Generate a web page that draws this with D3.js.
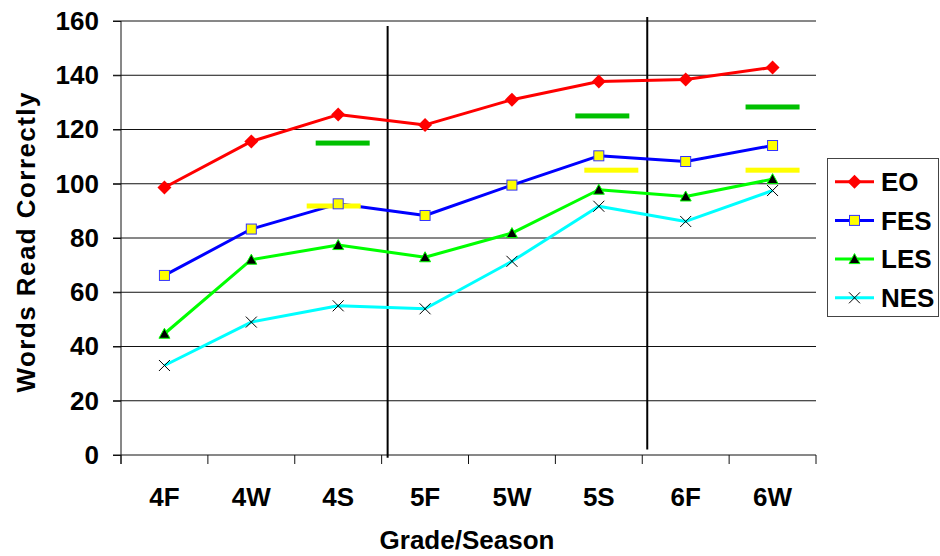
<!DOCTYPE html>
<html>
<head>
<meta charset="utf-8">
<script src="https://cdn.jsdelivr.net/npm/d3@7/dist/d3.min.js"></script>
<style>
  html, body { margin: 0; padding: 0; background: #fff; }
  svg { display: block; font-family: "Liberation Sans", Arial, sans-serif; font-weight: bold; }
</style>
</head>
<body>
<svg id="chart" width="940" height="556"></svg>
<script>
// ---- data ----
const categories = ["4F", "4W", "4S", "5F", "5W", "5S", "6F", "6W"];
const seriesNames = ["EO", "FES", "LES", "NES"];
const eoValues  = [98.6, 115.6, 125.5, 121.7, 131.0, 137.7, 138.4, 142.9];
const fesValues = [66.2, 83.3, 92.6, 88.3, 99.5, 110.3, 108.2, 114.1];
const lesValues = [44.7, 72.0, 77.4, 72.9, 81.8, 97.8, 95.3, 101.7];
const nesValues = [33.0, 49.0, 55.0, 53.9, 71.4, 91.7, 86.1, 97.5];
const benchCategories = ["4S", "5S", "6W"];
const greenBench  = [115.0, 125.0, 128.3];
const yellowBench = [91.8, 105.0, 105.0];
const yTicks = [0, 20, 40, 60, 80, 100, 120, 140, 160];
const xTitle = "Grade/Season";
const yTitle = "Words Read Correctly";

// ---- layout ----
const svg = d3.select("#chart");
const mLeft = 121, mRight = 816, mTop = 21, mBottom = 455;
const x = d3.scaleBand().domain(categories).range([mLeft, mRight]);
const y = d3.scaleLinear().domain([0, 160]).range([mBottom, mTop]);
const bw = x.bandwidth();
const cx = c => x(c) + bw / 2;

// gridlines
svg.append("g").selectAll("line").data(yTicks).join("line")
  .attr("x1", mLeft - 8).attr("x2", mRight)
  .attr("y1", d => y(d)).attr("y2", d => y(d))
  .attr("stroke", "#111").attr("stroke-width", 1);

// y axis
const yAxis = svg.append("g").attr("transform", `translate(${mLeft},0)`)
  .call(d3.axisLeft(y).tickValues(yTicks).tickSize(8).tickPadding(14));
yAxis.select(".domain").remove();
yAxis.selectAll("line").attr("stroke", "#111");
yAxis.selectAll("text").attr("font-size", 26).attr("font-family", "Liberation Sans, Arial, sans-serif")
  .attr("font-weight", "bold").attr("fill", "#000");
svg.append("line").attr("x1", mLeft).attr("x2", mLeft).attr("y1", mTop).attr("y2", mBottom + 9)
  .attr("stroke", "#111").attr("stroke-width", 1);

// x axis boundary ticks
const bounds = categories.map(c => x(c)).concat([mRight]);
svg.append("g").selectAll("line").data(bounds).join("line")
  .attr("x1", d => d).attr("x2", d => d).attr("y1", mBottom).attr("y2", mBottom + 9)
  .attr("stroke", "#111").attr("stroke-width", 1);

// x labels
const xAxis = svg.append("g").attr("transform", `translate(0,${mBottom})`)
  .call(d3.axisBottom(x).tickSize(0));
xAxis.select(".domain").remove();
xAxis.selectAll("text").attr("y", 51).attr("dy", 0).attr("font-size", 26)
  .attr("font-family", "Liberation Sans, Arial, sans-serif").attr("font-weight", "bold").attr("fill", "#000");

// grade separators
const separators = [
  { x: x("5F") + 6, y1: 158.2, y2: -1 },
  { x: x("6F") + 5, y1: 161.5, y2: 2 }
];
svg.append("g").selectAll("line").data(separators).join("line")
  .attr("x1", d => d.x).attr("x2", d => d.x)
  .attr("y1", d => y(d.y1)).attr("y2", d => y(d.y2))
  .attr("stroke", "#000").attr("stroke-width", 2);

// series
const styles = {
  EO:  { values: eoValues,  color: "#ff0000" },
  FES: { values: fesValues, color: "#0000ff" },
  LES: { values: lesValues, color: "#00ff00" },
  NES: { values: nesValues, color: "#00ffff" }
};

function drawMarker(g, name) {
  if (name === "EO") {
    g.append("path").attr("d", "M0,-7L7,0L0,7L-7,0Z").attr("fill", "#ff0000");
  } else if (name === "FES") {
    g.append("rect").attr("x", -5).attr("y", -5).attr("width", 10).attr("height", 10)
      .attr("fill", "#ffff00").attr("stroke", "#3333ff").attr("stroke-width", 1);
  } else if (name === "LES") {
    g.append("path").attr("d", "M0,-5.5L5.5,4.5L-5.5,4.5Z")
      .attr("fill", "#000").attr("stroke", "#00ff00").attr("stroke-width", 1);
  } else {
    g.append("path").attr("d", "M-5.5,-5.5L5.5,5.5M5.5,-5.5L-5.5,5.5")
      .attr("stroke", "#000").attr("stroke-width", 1).attr("fill", "none");
  }
}

const line = d3.line().x((d, i) => cx(categories[i])).y(d => y(d));
["NES", "LES", "FES", "EO"].forEach(name => {
  const s = styles[name];
  svg.append("path").datum(s.values).attr("d", line)
    .attr("fill", "none").attr("stroke", s.color).attr("stroke-width", 3)
    .attr("stroke-linejoin", "round");
});

// benchmark bars (over lines, under markers)
const greenShift = [4.5, 3.5, 0];
const yellowShift = [-4.5, 12.5, 0];
const barW = 54;
svg.append("g").selectAll("rect").data(greenBench).join("rect")
  .attr("x", (d, i) => cx(benchCategories[i]) - barW / 2 + greenShift[i])
  .attr("y", d => y(d) - 2.5).attr("width", barW).attr("height", 5)
  .attr("fill", "#00c000");
svg.append("g").selectAll("rect").data(yellowBench).join("rect")
  .attr("x", (d, i) => cx(benchCategories[i]) - barW / 2 + yellowShift[i])
  .attr("y", d => y(d) - 2.5).attr("width", barW).attr("height", 5)
  .attr("fill", "#ffff00");

["NES", "LES", "FES", "EO"].forEach(name => {
  const s = styles[name];
  s.values.forEach((v, i) => {
    const g = svg.append("g").attr("transform", `translate(${cx(categories[i])},${y(v)})`);
    drawMarker(g, name);
  });
});

// legend
const legend = svg.append("g");
legend.append("rect").attr("x", 827.5).attr("y", 158.5).attr("width", 111).attr("height", 158)
  .attr("fill", "#fff").attr("stroke", "#444").attr("stroke-width", 1);
seriesNames.forEach((name, i) => {
  const ly = 181.7 + i * 38.7;
  legend.append("line").attr("x1", 835).attr("x2", 874).attr("y1", ly).attr("y2", ly)
    .attr("stroke", styles[name].color).attr("stroke-width", 3);
  const g = legend.append("g").attr("transform", `translate(854.5,${ly})`);
  drawMarker(g, name);
  legend.append("text").attr("x", 881).attr("y", ly).attr("dy", "0.36em")
    .attr("font-size", 26).attr("fill", "#000").text(name);
});

// axis titles
svg.append("text").attr("x", 467).attr("y", 549).attr("text-anchor", "middle")
  .attr("font-size", 26).attr("fill", "#000").text(xTitle);
svg.append("text").attr("transform", "translate(35,242.5) rotate(-90)")
  .attr("text-anchor", "middle").attr("font-size", 26).attr("fill", "#000")
  .attr("textLength", 300).attr("lengthAdjust", "spacing").text(yTitle);
</script>
</body>
</html>
